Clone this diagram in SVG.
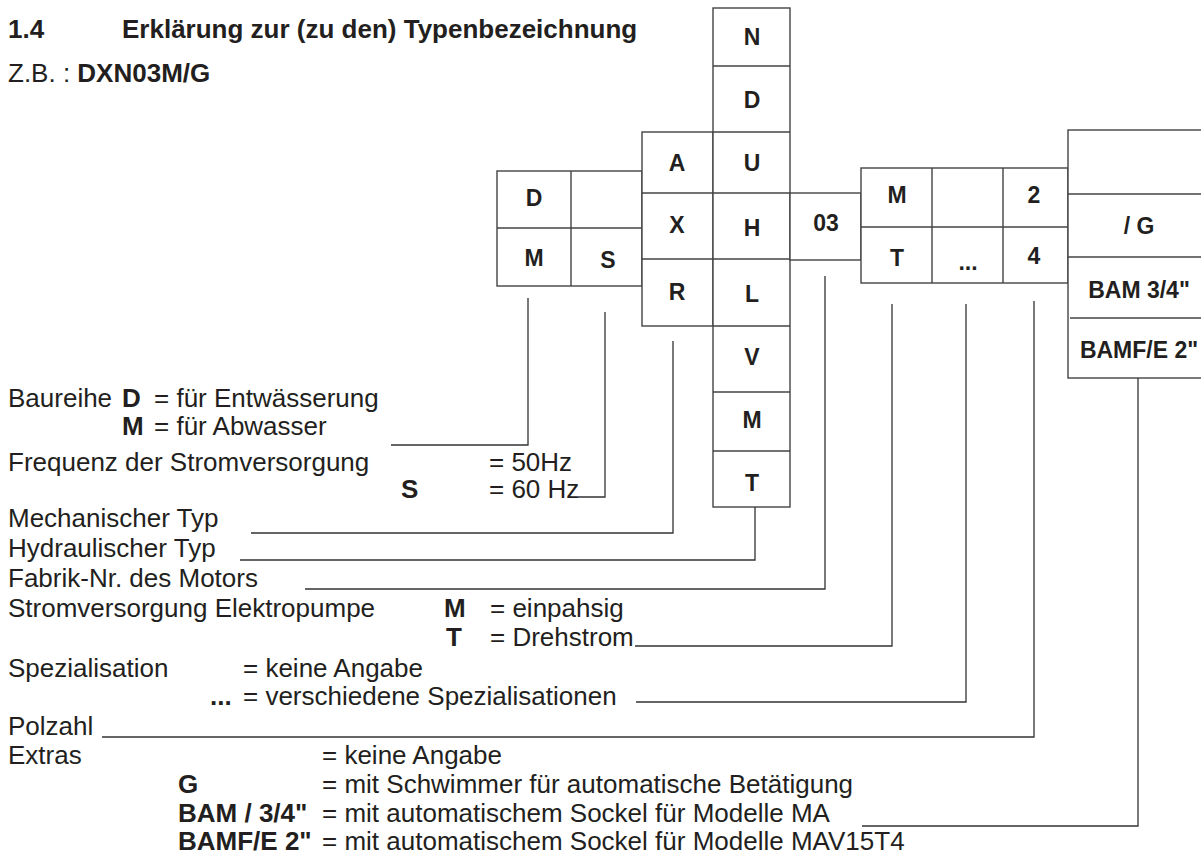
<svg xmlns="http://www.w3.org/2000/svg" width="1201" height="861" viewBox="0 0 1201 861">
<style>
.bx{fill:#fff;stroke:#444;stroke-width:1.4}
.dv{stroke:#444;stroke-width:1.4;fill:none}
.lbl{font-family:"Liberation Sans",Arial,sans-serif;font-weight:bold;font-size:23px;fill:#231f20;text-anchor:middle}
.t{font-family:"Liberation Sans",Arial,sans-serif;font-size:26px;fill:#231f20}
.b{font-weight:bold}
.cn{stroke:#333;stroke-width:1.3;fill:none}
</style>
<rect width="1201" height="861" fill="#fff"/>
<g id="title">
<text class="t b" x="8" y="38" font-size="24">1.4</text>
<text class="t b" x="122" y="38" font-size="24">Erklärung zur (zu den) Typenbezeichnung</text>
<text class="t" x="8" y="82" font-size="24">Z.B. : <tspan class="b">DXN03M/G</tspan></text>
</g>
<g id="node-series">
<rect class="bx" x="497" y="171" width="145" height="115"/>
<path class="dv" d="M571 171V286M497 228H642"/>
<text class="lbl" x="534" y="206">D</text>
<text class="lbl" x="534" y="266">M</text>
<text class="lbl" x="608" y="268">S</text>
</g>
<g id="node-mech">
<rect class="bx" x="642" y="132" width="71" height="194"/>
<path class="dv" d="M642 193H713M642 259H713"/>
<text class="lbl" x="677" y="171">A</text>
<text class="lbl" x="677" y="233">X</text>
<text class="lbl" x="677" y="300">R</text>
</g>
<g id="node-hydr">
<rect class="bx" x="713" y="8" width="77" height="499"/>
<path class="dv" d="M713 66H790M713 132H790M713 193H790M713 259H790M713 326H790M713 392H790M713 451H790"/>
<text class="lbl" x="752" y="45">N</text>
<text class="lbl" x="752" y="108">D</text>
<text class="lbl" x="752" y="171">U</text>
<text class="lbl" x="752" y="236">H</text>
<text class="lbl" x="752" y="302">L</text>
<text class="lbl" x="752" y="365">V</text>
<text class="lbl" x="752" y="428">M</text>
<text class="lbl" x="752" y="491">T</text>
</g>
<g id="node-motor">
<rect class="bx" x="790" y="193" width="71" height="67"/>
<text class="lbl" x="826" y="231">03</text>
</g>
<g id="node-power">
<rect class="bx" x="861" y="168" width="207" height="115"/>
<path class="dv" d="M932 168V283M1003 168V283M861 227H1068"/>
<text class="lbl" x="897" y="203">M</text>
<text class="lbl" x="897" y="266">T</text>
<text class="lbl" x="968" y="270">...</text>
<text class="lbl" x="1034" y="203">2</text>
<text class="lbl" x="1034" y="264">4</text>
</g>
<g id="node-extras">
<rect class="bx" x="1068" y="130" width="145" height="248"/>
<path class="dv" d="M1068 194H1213M1068 257H1213M1070 318H1213"/>
<text class="lbl" x="1139" y="234">/ G</text>
<text class="lbl" x="1139" y="298">BAM 3/4"</text>
<text class="lbl" x="1139" y="358">BAMF/E 2"</text>
</g>
<g id="connectors">
<path class="cn" d="M528 298V445H391"/>
<path class="cn" d="M605 312V497H578"/>
<path class="cn" d="M673 341V533H251"/>
<path class="cn" d="M755 507V560H240"/>
<path class="cn" d="M825 276V589H305"/>
<path class="cn" d="M892 304V646H635"/>
<path class="cn" d="M966 304V702H636"/>
<path class="cn" d="M1034 301V737H102"/>
<path class="cn" d="M1138 378V826H862"/>
</g>
<g id="legend">
<text class="t" x="8" y="407">Baureihe</text>
<text class="t b" x="122" y="407">D</text>
<text class="t" x="154" y="407">= für Entwässerung</text>
<text class="t b" x="122" y="435">M</text>
<text class="t" x="154" y="435">= für Abwasser</text>
<text class="t" x="8" y="471">Frequenz der Stromversorgung</text>
<text class="t" x="489" y="471">= 50Hz</text>
<text class="t b" x="401" y="498">S</text>
<text class="t" x="489" y="498">= 60 Hz</text>
<text class="t" x="8" y="527">Mechanischer Typ</text>
<text class="t" x="8" y="557">Hydraulischer Typ</text>
<text class="t" x="8" y="587">Fabrik-Nr. des Motors</text>
<text class="t" x="8" y="617">Stromversorgung Elektropumpe</text>
<text class="t b" x="444" y="617">M</text>
<text class="t" x="490" y="617">= einpahsig</text>
<text class="t b" x="446" y="646">T</text>
<text class="t" x="490" y="646">= Drehstrom</text>
<text class="t" x="8" y="677">Spezialisation</text>
<text class="t" x="243" y="677">= keine Angabe</text>
<text class="t b" x="210" y="705">...</text>
<text class="t" x="243" y="705">= verschiedene Spezialisationen</text>
<text class="t" x="8" y="735">Polzahl</text>
<text class="t" x="8" y="764">Extras</text>
<text class="t" x="322" y="764">= keine Angabe</text>
<text class="t b" x="178" y="793">G</text>
<text class="t" x="322" y="793">= mit Schwimmer für automatische Betätigung</text>
<text class="t b" x="178" y="822">BAM / 3/4"</text>
<text class="t" x="322" y="822">= mit automatischem Sockel für Modelle MA</text>
<text class="t b" x="178" y="850">BAMF/E 2"</text>
<text class="t" x="322" y="850">= mit automatischem Sockel für Modelle MAV15T4</text>
</g>
</svg>
